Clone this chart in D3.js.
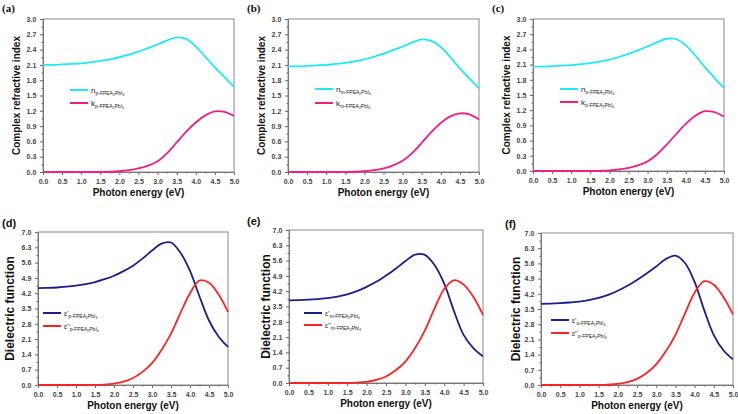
<!DOCTYPE html>
<html lang="en">
<head>
<meta charset="utf-8">
<title>optical constants</title>
<script src="https://cdn.jsdelivr.net/npm/d3@7"></script>
<style>
  body { margin: 0; background: #fff; }
  svg { display: block; }
</style>
</head>
<body>
<script>
// photon energy grid (eV)
var energy = [0, 0.25, 0.5, 0.75, 1, 1.25, 1.5, 1.75, 2, 2.25, 2.5, 2.75, 3, 3.25, 3.5, 3.75, 4, 4.25, 4.5, 4.75, 5];

// (a) p-FPEA2PbI4
var nP = [2.10, 2.10, 2.11, 2.12, 2.13, 2.15, 2.18, 2.21, 2.25, 2.30, 2.36, 2.43, 2.50, 2.58, 2.64, 2.61, 2.46, 2.26, 2.05, 1.86, 1.67];
var kP = [0, 0, 0, 0, 0, 0, 0, 0.005, 0.015, 0.035, 0.07, 0.125, 0.21, 0.37, 0.58, 0.79, 0.97, 1.11, 1.19, 1.18, 1.10];
// (b) m-FPEA2PbI4
var nM = [2.07, 2.07, 2.08, 2.09, 2.10, 2.12, 2.14, 2.17, 2.21, 2.26, 2.32, 2.39, 2.46, 2.54, 2.60, 2.57, 2.45, 2.25, 2.03, 1.83, 1.64];
var kM = [0, 0, 0, 0, 0, 0, 0, 0.005, 0.015, 0.035, 0.07, 0.13, 0.22, 0.37, 0.57, 0.78, 0.96, 1.09, 1.15, 1.13, 1.03];
// (c) o-FPEA2PbI4
var nO = [2.06, 2.06, 2.07, 2.08, 2.09, 2.11, 2.13, 2.16, 2.20, 2.25, 2.31, 2.38, 2.46, 2.54, 2.61, 2.60, 2.48, 2.28, 2.05, 1.84, 1.64];
var kO = [0, 0, 0, 0, 0, 0, 0, 0.004, 0.01, 0.03, 0.06, 0.11, 0.19, 0.33, 0.52, 0.73, 0.93, 1.09, 1.18, 1.16, 1.07];

// (d) dielectric function p-
var e1P = [4.43, 4.44, 4.46, 4.50, 4.55, 4.62, 4.71, 4.84, 5.00, 5.21, 5.46, 5.78, 6.15, 6.47, 6.52, 6.05, 5.22, 4.05, 2.95, 2.22, 1.74];
var e2P = [0, 0, 0, 0, 0, 0, 0.005, 0.02, 0.06, 0.15, 0.32, 0.60, 1.00, 1.60, 2.35, 3.30, 4.20, 4.78, 4.68, 4.15, 3.35];
// (e) m-
var e1M = [3.78, 3.79, 3.81, 3.84, 3.88, 3.95, 4.05, 4.20, 4.40, 4.63, 4.92, 5.23, 5.58, 5.87, 5.86, 5.40, 4.55, 3.30, 2.20, 1.60, 1.22];
var e2M = [0, 0, 0, 0, 0, 0, 0.005, 0.02, 0.05, 0.14, 0.30, 0.58, 0.98, 1.60, 2.40, 3.40, 4.30, 4.70, 4.50, 3.95, 3.12];
// (f) o-
var e1O = [3.74, 3.75, 3.77, 3.80, 3.84, 3.91, 4.01, 4.15, 4.34, 4.57, 4.84, 5.14, 5.46, 5.80, 5.96, 5.62, 4.75, 3.45, 2.30, 1.60, 1.18];
var e2O = [0, 0, 0, 0, 0, 0, 0.005, 0.02, 0.05, 0.13, 0.28, 0.55, 0.95, 1.55, 2.30, 3.30, 4.25, 4.78, 4.62, 4.05, 3.25];

var xTicks = [0, 0.5, 1, 1.5, 2, 2.5, 3, 3.5, 4, 4.5, 5];
var nkTicks = [0, 0.3, 0.6, 0.9, 1.2, 1.5, 1.8, 2.1, 2.4, 2.7, 3.0];
var epsTicks = [0, 0.7, 1.4, 2.1, 2.8, 3.5, 4.2, 4.9, 5.6, 6.3, 7.0];

var cyan = "#1fe9f2", pink = "#f0217f", navy = "#1c1f8a", red = "#ff2222";

var panels = [
  {tag: "(a)", serif: true, tagx: 2, tagy: 12, l: 43, r: 234, t: 19, b: 172, ymax: 3, yt: nkTicks, title: "Complex refractive index", tsize: 10, tx: 16,
   s: [nP, kP], c: [cyan, pink], sym: ["n", "k"], sub: "p-FPEA", lx: 70, ly: [90, 103]},
  {tag: "(b)", serif: true, tagx: 247, tagy: 12, l: 288, r: 479, t: 19, b: 172, ymax: 3, yt: nkTicks, title: "Complex refractive index", tsize: 10, tx: 261,
   s: [nM, kM], c: [cyan, pink], sym: ["n", "k"], sub: "m-FPEA", lx: 315, ly: [89, 103]},
  {tag: "(c)", serif: true, tagx: 492, tagy: 12, l: 533, r: 724, t: 19, b: 171, ymax: 3, yt: nkTicks, title: "Complex refractive index", tsize: 10, tx: 506,
   s: [nO, kO], c: [cyan, pink], sym: ["n", "k"], sub: "o-FPEA", lx: 560, ly: [89, 102]},
  {tag: "(d)", serif: false, tagx: 2, tagy: 227, l: 38, r: 228, t: 232, b: 385, ymax: 7, yt: epsTicks, title: "Dielectric function", tsize: 12, tx: 10,
   s: [e1P, e2P], c: [navy, red], sym: ["\u03b5'", "\u03b5''"], sub: "p-FPEA", lx: 43, ly: [313, 326]},
  {tag: "(e)", serif: false, tagx: 247, tagy: 225, l: 289, r: 483, t: 230, b: 383, ymax: 7, yt: epsTicks, title: "Dielectric function", tsize: 12, tx: 266,
   s: [e1M, e2M], c: [navy, red], sym: ["\u03b5'", "\u03b5''"], sub: "m-FPEA", lx: 304, ly: [313, 325]},
  {tag: "(f)", serif: false, tagx: 505, tagy: 228, l: 541, r: 733, t: 233, b: 385, ymax: 7, yt: epsTicks, title: "Dielectric function", tsize: 12, tx: 516,
   s: [e1O, e2O], c: [navy, red], sym: ["\u03b5'", "\u03b5''"], sub: "o-FPEA", lx: 551, ly: [320, 333]}
];

var svg = d3.select("body").append("svg")
  .attr("width", 738).attr("height", 414)
  .style("font-family", "Arial, 'Liberation Sans', sans-serif");

panels.forEach(function(p) {
  var x = d3.scaleLinear().domain([0, 5]).range([p.l, p.r]);
  var y = d3.scaleLinear().domain([0, p.ymax]).range([p.b, p.t]);
  var g = svg.append("g");

  // frame
  g.append("rect").attr("x", p.l).attr("y", p.t)
    .attr("width", p.r - p.l).attr("height", p.b - p.t)
    .attr("fill", "none").attr("stroke", "#8a8a8a").attr("stroke-width", 1);

  // axes with minor ticks
  var step = p.yt[1] - p.yt[0];
  var minorY = p.yt.slice(0, -1).map(function(v) { return v + step / 2; });
  var minorX = xTicks.slice(0, -1).map(function(v) { return v + 0.25; });

  var ax = g.append("g").attr("transform", "translate(0," + p.b + ")")
    .call(d3.axisBottom(x).tickValues(xTicks).tickSize(3).tickFormat(d3.format(".1f")));
  g.append("g").attr("transform", "translate(0," + p.b + ")")
    .call(d3.axisBottom(x).tickValues(minorX).tickSize(1.5).tickFormat(""));
  var ay = g.append("g").attr("transform", "translate(" + p.l + ",0)")
    .call(d3.axisLeft(y).tickValues(p.yt).tickSize(3).tickFormat(d3.format(".1f")));
  g.append("g").attr("transform", "translate(" + p.l + ",0)")
    .call(d3.axisLeft(y).tickValues(minorY).tickSize(1.5).tickFormat(""));

  g.selectAll(".domain").attr("stroke", "#777");
  g.selectAll(".tick line").attr("stroke", "#666");
  g.selectAll(".tick text").attr("font-size", 7).attr("font-weight", "bold").attr("fill", "#444")
    .attr("font-family", "Arial, 'Liberation Sans', sans-serif");
  ax.selectAll(".tick text").attr("dy", "0.9em");
  ay.selectAll(".tick text").attr("dx", "-0.1em");

  // curves
  var line = d3.line()
    .x(function(d, i) { return x(energy[i]); })
    .y(function(d) { return y(Math.max(0, d)); })
    .curve(d3.curveCatmullRom.alpha(0.5));
  p.s.forEach(function(arr, j) {
    g.append("path").datum(arr).attr("d", line)
      .attr("fill", "none").attr("stroke", p.c[j]).attr("stroke-width", 1.8);
  });

  // legend
  p.ly.forEach(function(ly, j) {
    g.append("line").attr("x1", p.lx).attr("x2", p.lx + 18).attr("y1", ly).attr("y2", ly)
      .attr("stroke", p.c[j]).attr("stroke-width", 2);
    var t = g.append("text").attr("x", p.lx + 21).attr("y", ly + 2.5)
      .attr("font-size", p.ymax === 3 ? 8 : 7).attr("fill", "#222");
    t.append("tspan").text(p.sym[j]);
    var s = t.append("tspan").attr("font-size", 5).attr("dy", p.ymax === 3 ? 2 : 2.5);
    s.append("tspan").text(p.sub);
    s.append("tspan").attr("font-size", 3.5).attr("dy", 1).text("2");
    s.append("tspan").attr("dy", -1).text("PbI");
    s.append("tspan").attr("font-size", 3.5).attr("dy", 1).text("4");
  });

  // titles
  g.append("text").attr("transform", "translate(" + p.tx + "," + ((p.t + p.b) / 2) + ") rotate(-90)")
    .attr("text-anchor", "middle").attr("dy", "0.35em")
    .attr("font-size", p.tsize).attr("font-weight", "bold").attr("fill", "#111").text(p.title);
  g.append("text").attr("x", (p.l + p.r) / 2).attr("y", p.b + 24)
    .attr("text-anchor", "middle").attr("font-size", 10).attr("font-weight", "bold")
    .attr("fill", "#111").text("Photon energy (eV)");

  // panel tag
  g.append("text").attr("x", p.tagx).attr("y", p.tagy)
    .attr("font-size", 11).attr("font-weight", "bold").attr("fill", "#111")
    .attr("font-family", p.serif ? "'Liberation Serif', 'Times New Roman', serif" : "Arial, 'Liberation Sans', sans-serif")
    .text(p.tag);
});
</script>
</body>
</html>
